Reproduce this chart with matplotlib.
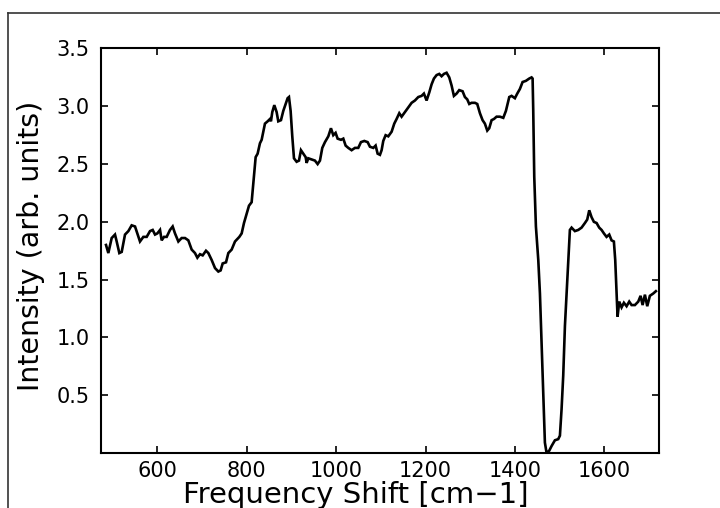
import matplotlib
matplotlib.use("Agg")
import matplotlib.pyplot as plt
from matplotlib.lines import Line2D

# Raman spectrum
freq = [485.2, 490.4, 497.9, 505.3, 509.1, 515.0, 520.3, 527.7, 535.2, 542.6,
        550.1, 555.3, 561.2, 568.7, 576.2, 583.6, 589.6, 594.8, 600.0, 606.0,
        609.7, 614.9, 620.9, 628.3, 634.3, 639.5, 647.0, 654.4, 661.9, 669.3,
        676.8, 684.2, 689.5, 695.4, 701.4, 708.8, 714.1, 721.5, 729.0, 736.4,
        741.6, 746.1, 753.6, 758.8, 766.2, 773.7, 783.4, 788.6, 793.8, 799.8,
        805.0, 810.9, 814.6, 819.9, 824.3, 829.5, 833.3, 837.0, 840.7, 846.7,
        851.9, 854.1, 857.1, 861.6, 866.8, 870.5, 876.5, 881.7, 886.9, 891.4,
        894.4, 898.1, 901.8, 905.6, 911.5, 916.8, 921.2, 926.4, 931.7, 933.9,
        937.6, 945.1, 952.5, 958.5, 963.7, 968.9, 974.9, 982.4, 988.3, 993.5,
        998.7, 1003.2, 1010.7, 1015.9, 1021.1, 1027.1, 1034.5, 1042.0, 1049.4, 1055.4,
        1062.9, 1070.3, 1075.5, 1083.0, 1088.2, 1092.7, 1097.9, 1101.6, 1105.3, 1110.6,
        1116.5, 1124.0, 1129.9, 1135.1, 1141.1, 1146.3, 1153.7, 1161.2, 1168.7, 1176.1,
        1183.6, 1191.0, 1196.2, 1202.2, 1208.2, 1213.4, 1218.6, 1224.6, 1230.5, 1235.7,
        1241.0, 1246.9, 1252.9, 1258.1, 1263.3, 1269.3, 1275.2, 1282.7, 1287.9, 1293.1,
        1297.6, 1302.8, 1310.3, 1315.5, 1321.5, 1327.4, 1332.6, 1337.9, 1342.3, 1347.6,
        1352.8, 1358.7, 1366.2, 1373.7, 1379.6, 1387.1, 1392.3, 1399.7, 1405.0, 1410.9,
        1416.9, 1424.3, 1431.8, 1437.0, 1439.3, 1440.7, 1443.0, 1446.7, 1452.0, 1455.7,
        1459.4, 1463.1, 1466.8, 1470.6, 1476.5, 1481.7, 1489.2, 1496.6, 1500.4, 1504.1,
        1507.8, 1511.6, 1515.3, 1519.0, 1522.7, 1526.5, 1533.9, 1541.4, 1548.8, 1556.3,
        1561.5, 1566.0, 1571.2, 1576.4, 1582.4, 1588.3, 1593.6, 1598.8, 1604.7, 1610.7,
        1615.9, 1621.1, 1624.1, 1627.1, 1629.3, 1633.1, 1638.3, 1643.5, 1649.5, 1655.4,
        1660.7, 1668.1, 1675.6, 1680.8, 1685.3, 1690.5, 1695.7, 1701.6, 1709.1, 1715.0]

intensity = [1.80, 1.73, 1.86, 1.89, 1.83, 1.73, 1.74, 1.89, 1.92, 1.97,
             1.96, 1.90, 1.83, 1.87, 1.87, 1.92, 1.93, 1.89, 1.90, 1.93,
             1.84, 1.87, 1.87, 1.93, 1.96, 1.90, 1.83, 1.86, 1.86, 1.84,
             1.76, 1.73, 1.69, 1.72, 1.71, 1.75, 1.73, 1.67, 1.60, 1.57,
             1.58, 1.64, 1.65, 1.73, 1.76, 1.83, 1.87, 1.90, 1.99, 2.07,
             2.14, 2.17, 2.33, 2.56, 2.59, 2.68, 2.71, 2.78, 2.85, 2.87,
             2.89, 2.87, 2.95, 3.01, 2.95, 2.87, 2.88, 2.96, 3.02, 3.07,
             3.08, 2.96, 2.74, 2.55, 2.52, 2.53, 2.62, 2.59, 2.56, 2.51,
             2.55, 2.54, 2.53, 2.50, 2.53, 2.64, 2.69, 2.74, 2.81, 2.75,
             2.77, 2.72, 2.71, 2.72, 2.66, 2.64, 2.62, 2.64, 2.64, 2.69,
             2.70, 2.69, 2.65, 2.64, 2.66, 2.59, 2.58, 2.62, 2.70, 2.75,
             2.74, 2.78, 2.85, 2.89, 2.94, 2.91, 2.95, 2.99, 3.03, 3.05,
             3.08, 3.09, 3.11, 3.05, 3.12, 3.19, 3.24, 3.27, 3.28, 3.26,
             3.28, 3.29, 3.25, 3.18, 3.09, 3.11, 3.14, 3.13, 3.08, 3.06,
             3.02, 3.03, 3.03, 3.02, 2.94, 2.88, 2.85, 2.79, 2.81, 2.88,
             2.89, 2.91, 2.91, 2.90, 2.96, 3.08, 3.09, 3.07, 3.11, 3.15,
             3.21, 3.22, 3.24, 3.25, 3.24, 2.97, 2.39, 1.96, 1.67, 1.38,
             0.95, 0.52, 0.09, 0.00, 0.02, 0.06, 0.11, 0.12, 0.15, 0.38,
             0.67, 1.10, 1.38, 1.67, 1.93, 1.95, 1.92, 1.93, 1.95, 1.99,
             2.02, 2.10, 2.04, 2.00, 1.99, 1.95, 1.93, 1.90, 1.87, 1.89,
             1.84, 1.83, 1.67, 1.38, 1.18, 1.31, 1.26, 1.30, 1.27, 1.31,
             1.28, 1.28, 1.31, 1.36, 1.28, 1.37, 1.27, 1.36, 1.38, 1.40]

xticks = [600, 800, 1000, 1200, 1400, 1600]
yticks = [0.5, 1.0, 1.5, 2.0, 2.5, 3.0, 3.5]
ytick_labels = ["0.5", "1.0", "1.5", "2.0", "2.5", "3.0", "3.5"]

W, H = 720, 508
fig = plt.figure(figsize=(W / 100, H / 100), dpi=100)
fig.patch.set_facecolor("white")

ax = fig.add_axes([101 / W, 1 - 453 / H, (659 - 101) / W, (453 - 48.5) / H])
ax.plot(freq, intensity, color="black", lw=1.9, solid_joinstyle="miter")
ax.set_xlim(474, 1722)
ax.set_ylim(0, 3.5)
ax.set_xticks(xticks)
ax.set_xticklabels([str(t) for t in xticks])
ax.set_yticks(yticks)
ax.set_yticklabels(ytick_labels)
ax.tick_params(direction="in", length=5, width=1.2, top=True, right=True,
               labelsize=15, pad=6, colors="black")
ax.tick_params(axis="y", pad=8)
for s in ax.spines.values():
    s.set_linewidth(1.5)

fig.text(356 / W, 1 - 503 / H, "Frequency Shift [cm\u22121]", fontsize=21,
         ha="center", va="baseline")
fig.text(31 / W, 1 - 246 / H, "Intensity (arb. units)", fontsize=20.5,
         rotation=90, ha="center", va="center")

# outer frame (cropped at right and bottom)
fig.add_artist(Line2D([8 / W, 8 / W], [0, 1 - 13 / H], transform=fig.transFigure,
                      color="#333333", lw=1.2))
fig.add_artist(Line2D([8 / W, 1], [1 - 13 / H, 1 - 13 / H], transform=fig.transFigure,
                      color="#333333", lw=1.2))

fig.savefig("out.png", dpi=100)
